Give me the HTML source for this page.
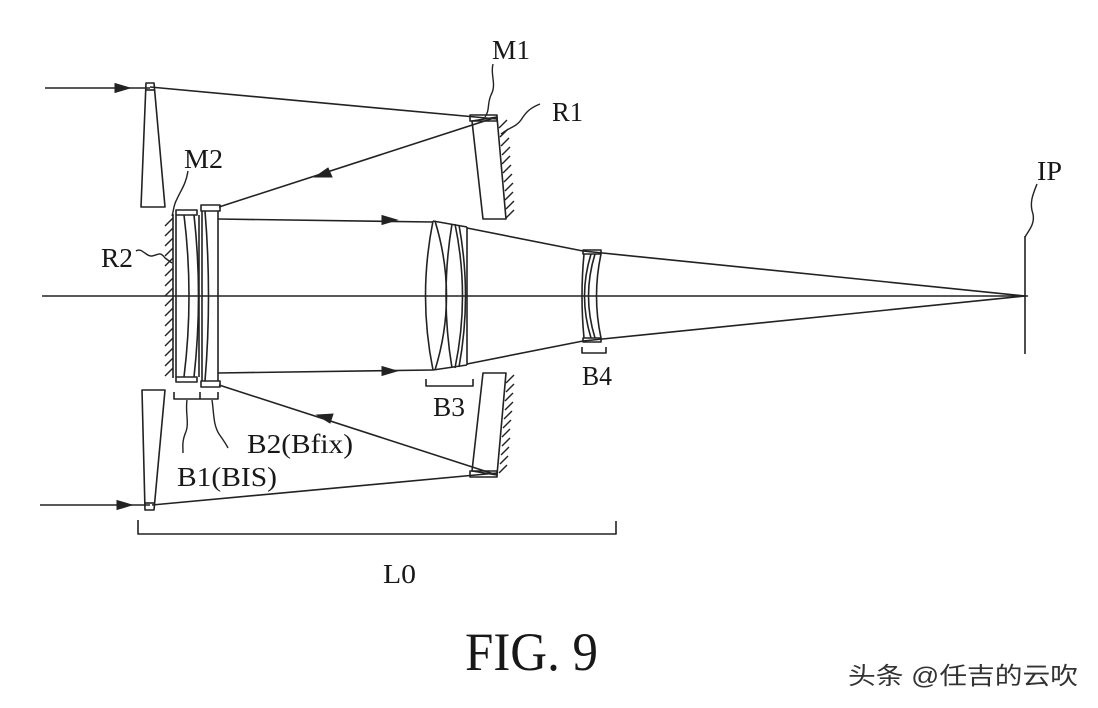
<!DOCTYPE html>
<html>
<head>
<meta charset="utf-8">
<style>
html,body{margin:0;padding:0;background:#fff;}
svg{display:block;}
text{font-family:"Liberation Serif","Noto Serif CJK SC",serif;fill:#181818;}
</style>
</head>
<body>
<svg width="1098" height="708" viewBox="0 0 1098 708" xmlns="http://www.w3.org/2000/svg">
<g fill="none" stroke="#222" stroke-width="1.6" stroke-linejoin="round">
  <!-- optical axis -->
  <line x1="42" y1="296" x2="1028" y2="296"/>

  <!-- top incoming ray -->
  <line x1="45" y1="88" x2="150" y2="88"/>
  <line x1="150" y1="87" x2="497" y2="119"/>
  <!-- reflected from M1 to B2 -->
  <line x1="497" y1="117" x2="219" y2="207"/>

  <!-- bottom incoming ray -->
  <line x1="40" y1="505" x2="150" y2="505"/>
  <line x1="152" y1="505" x2="497" y2="473"/>
  <line x1="497" y1="475" x2="219" y2="385"/>

  <!-- horizontal rays between B2 and B3 -->
  <line x1="218" y1="219" x2="433" y2="222"/>
  <line x1="218" y1="373" x2="433" y2="370"/>

  <!-- converging rays -->
  <polyline points="467,228 583,251 1025,296"/>
  <polyline points="467,364 583,341 1025,296"/>

  <!-- top wedge -->
  <polygon points="146,83 154,83 165,207 141,207"/>
  <line x1="146" y1="90" x2="154" y2="90"/>
  <!-- bottom wedge -->
  <polygon points="142,390 165,390 154,510 145,510"/>
  <line x1="145" y1="503" x2="154" y2="503"/>

  <!-- upper mirror M1/R1 -->
  <rect x="470" y="115" width="27" height="6"/>
  <polygon points="472,121 497,117 506,219 483,219"/>
  <!-- lower mirror -->
  <rect x="470" y="471" width="27" height="6"/>
  <polygon points="483,373 506,373 497,475 472,471"/>

  <!-- R2 mirror -->
  <line x1="173" y1="214" x2="173" y2="378"/>

  <!-- B1 -->
  <rect x="176" y="210" width="21" height="5"/>
  <rect x="176" y="377" width="21" height="5"/>
  <line x1="176" y1="215" x2="176" y2="377"/>
  <path d="M184,215 Q194,296 184,377"/>
  <path d="M194,215 Q203,296 194,377"/>
  <line x1="199" y1="215" x2="199" y2="377"/>

  <!-- B2 -->
  <rect x="201" y="205" width="19" height="6"/>
  <rect x="201" y="381" width="19" height="6"/>
  <line x1="202" y1="211" x2="202" y2="381"/>
  <line x1="218" y1="211" x2="218" y2="381"/>
  <path d="M205,211 Q212,296 205,381"/>

  <!-- B3 -->
  <path d="M433,221 Q418,296 433,370"/>
  <path d="M435,221 Q458,296 435,370"/>
  <line x1="433" y1="221" x2="467" y2="227"/>
  <line x1="433" y1="370" x2="467" y2="365"/>
  <path d="M452,224 Q440,296 452,368"/>
  <path d="M455,224 Q470,296 455,368"/>
  <path d="M459,225 Q472,296 459,367"/>
  <line x1="467" y1="227" x2="467" y2="365"/>

  <!-- B4 -->
  <rect x="583" y="250" width="18" height="4"/>
  <rect x="583" y="338" width="18" height="4"/>
  <path d="M584,254 Q580,296 584,338"/>
  <path d="M591,254 Q578,296 591,338"/>
  <path d="M595,254 Q582,296 595,338"/>
  <path d="M601,254 Q592,296 601,338"/>

  <!-- IP -->
  <line x1="1025" y1="236" x2="1025" y2="354"/>

  <!-- brackets -->
  <polyline points="174,392 174,399 218,399 218,392"/>
  <line x1="200" y1="392" x2="200" y2="399"/>
  <polyline points="426,379 426,386 473,386 473,379"/>
  <polyline points="582,347 582,353 606,353 606,347"/>
  <polyline points="138,520 138,534 616,534 616,521"/>
</g>

<!-- hatching -->
<g stroke="#222" stroke-width="1.4">
  <line x1="499" y1="128" x2="507" y2="120"/>
  <line x1="500" y1="137" x2="508" y2="129"/>
  <line x1="501" y1="146" x2="509" y2="138"/>
  <line x1="502" y1="155" x2="510" y2="147"/>
  <line x1="502" y1="164" x2="510" y2="156"/>
  <line x1="503" y1="173" x2="511" y2="165"/>
  <line x1="504" y1="182" x2="512" y2="174"/>
  <line x1="505" y1="191" x2="513" y2="183"/>
  <line x1="505" y1="200" x2="513" y2="192"/>
  <line x1="506" y1="209" x2="514" y2="201"/>
  <line x1="506" y1="218" x2="514" y2="210"/>

  <line x1="506" y1="383" x2="514" y2="375"/>
  <line x1="506" y1="392" x2="514" y2="384"/>
  <line x1="505" y1="401" x2="513" y2="393"/>
  <line x1="505" y1="410" x2="513" y2="402"/>
  <line x1="504" y1="419" x2="512" y2="411"/>
  <line x1="503" y1="428" x2="511" y2="420"/>
  <line x1="502" y1="437" x2="510" y2="429"/>
  <line x1="502" y1="446" x2="510" y2="438"/>
  <line x1="501" y1="455" x2="509" y2="447"/>
  <line x1="500" y1="464" x2="508" y2="456"/>
  <line x1="499" y1="473" x2="507" y2="465"/>

  <line x1="173" y1="218" x2="165" y2="226"/>
  <line x1="173" y1="228" x2="165" y2="236"/>
  <line x1="173" y1="238" x2="165" y2="246"/>
  <line x1="173" y1="248" x2="165" y2="256"/>
  <line x1="173" y1="258" x2="165" y2="266"/>
  <line x1="173" y1="268" x2="165" y2="276"/>
  <line x1="173" y1="278" x2="165" y2="286"/>
  <line x1="173" y1="288" x2="165" y2="296"/>
  <line x1="173" y1="298" x2="165" y2="306"/>
  <line x1="173" y1="308" x2="165" y2="316"/>
  <line x1="173" y1="318" x2="165" y2="326"/>
  <line x1="173" y1="328" x2="165" y2="336"/>
  <line x1="173" y1="338" x2="165" y2="346"/>
  <line x1="173" y1="348" x2="165" y2="356"/>
  <line x1="173" y1="358" x2="165" y2="366"/>
  <line x1="173" y1="368" x2="165" y2="376"/>
</g>

<!-- leaders -->
<g fill="none" stroke="#222" stroke-width="1.4">
  <path d="M493,64 C490,75 497,84 491,95 C487,104 490,110 485,117"/>
  <path d="M540,104 C530,108 526,112 521,120 C516,127 510,127 501,134"/>
  <path d="M188,171 C186,184 181,190 177,199 C173,206 174,210 172,216"/>
  <path d="M136,251 C142,247 146,257 152,256 C158,255 160,251 165,258 L172,263"/>
  <path d="M1037,184 C1033,194 1029,203 1033,214 C1035,224 1029,230 1025,237"/>
  <path d="M187,400 C185,413 190,424 185,434 C182,442 183,447 183,453"/>
  <path d="M212,400 C214,413 213,424 219,434 C224,441 226,444 228,448"/>
</g>

<!-- arrowheads -->
<g fill="#222" stroke="#222" stroke-width="1">
  <polygon points="130,88 115,83.5 115,92.5"/>
  <polygon points="132,505 117,500.5 117,509.5"/>
  <polygon points="397,220 382,215.5 382,224.5"/>
  <polygon points="397,371 382,366.5 382,375.5"/>
  <polygon points="315,177 328,168 332,177"/>
  <polygon points="317,415 333,414 330,423"/>
</g>

<!-- labels -->
<g font-size="27">
  <text x="492" y="59" textLength="38" lengthAdjust="spacingAndGlyphs">M1</text>
  <text x="552" y="121" textLength="31" lengthAdjust="spacingAndGlyphs">R1</text>
  <text x="184" y="168" textLength="39" lengthAdjust="spacingAndGlyphs">M2</text>
  <text x="101" y="267" textLength="32" lengthAdjust="spacingAndGlyphs">R2</text>
  <text x="1037" y="180" textLength="25" lengthAdjust="spacingAndGlyphs">IP</text>
  <text x="433" y="416" textLength="32" lengthAdjust="spacingAndGlyphs">B3</text>
  <text x="582" y="385" textLength="30" lengthAdjust="spacingAndGlyphs">B4</text>
  <text x="247" y="453" textLength="106" lengthAdjust="spacingAndGlyphs">B2(Bfix)</text>
  <text x="177" y="486" textLength="100" lengthAdjust="spacingAndGlyphs">B1(BIS)</text>
  <text x="383" y="583" textLength="33" lengthAdjust="spacingAndGlyphs">L0</text>
</g>
<text x="465" y="670" font-size="54" textLength="133" lengthAdjust="spacingAndGlyphs">FIG. 9</text>
<text x="848" y="684" font-size="24" textLength="230" lengthAdjust="spacingAndGlyphs" style="font-family:'Liberation Sans','Noto Sans CJK SC',sans-serif;fill:#333;">头条 @任吉的云吹</text>
</svg>
</body>
</html>
